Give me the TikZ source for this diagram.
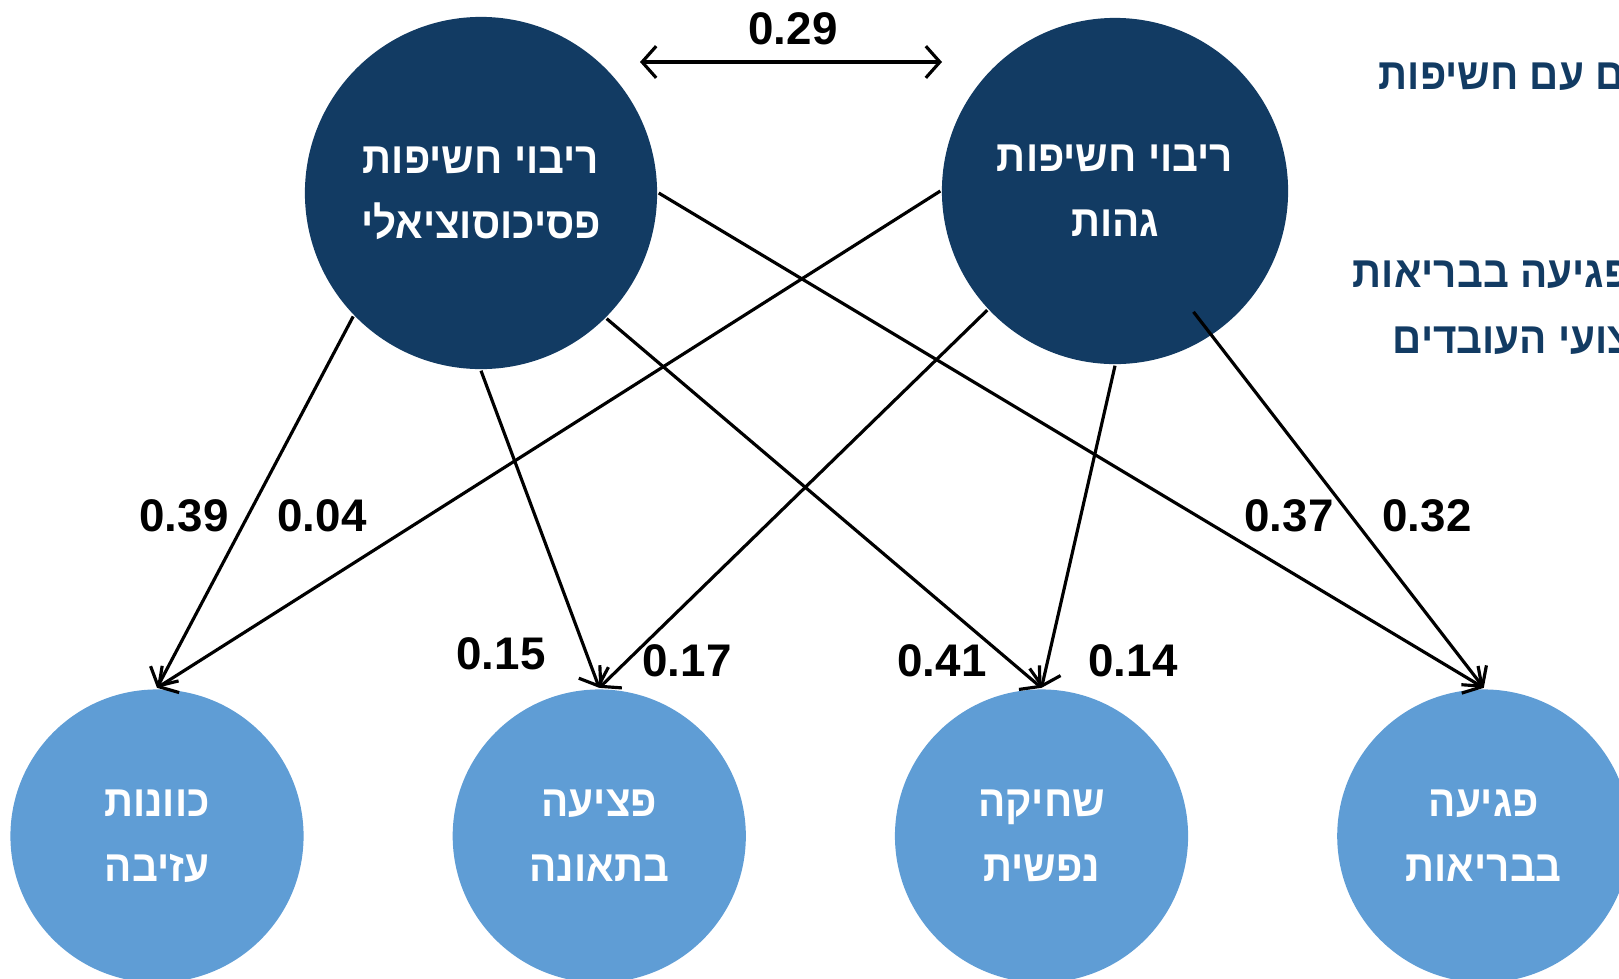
\documentclass[tikz,border=0pt]{standalone}
\usepackage{fontspec}
\usepackage{xcolor}
\usepackage{tikz}
\usetikzlibrary{positioning, arrows.meta}
\setmainfont{Liberation Sans}
\newfontfamily\hebfont[Script=Hebrew, FakeStretch=0.92]{Liberation Sans}
\TeXXeTstate=1
\definecolor{navy}{HTML}{123B63}
\definecolor{skyblue}{HTML}{5F9DD5}

\begin{document}
\begin{tikzpicture}[x=0.01cm, y=-0.01cm, line width=0.9pt,
    >={Straight Barb[length=4pt, width=9pt]}, node distance=4.42cm,
    exposure/.style={circle, fill=navy, text=white, align=center,
      font=\hebfont\bfseries\fontsize{12.5}{18.5}\selectfont},
    outcome/.style={circle, fill=skyblue, text=white, align=center,
      minimum size=2.93cm, font=\hebfont\bfseries\fontsize{12.5}{18.5}\selectfont},
    coef/.style={font=\bfseries\fontsize{13}{15}\selectfont},
    note/.style={text=navy, anchor=east, inner sep=0pt,
      font=\hebfont\bfseries\fontsize{12.5}{15}\selectfont}]
\useasboundingbox (0,0) rectangle (1619,978);
\clip (0,0) rectangle (1619,978);
% top row: exposures
\node[exposure, minimum size=3.52cm] (psy) at (481,193) {\beginR ריבוי חשיפות\endR\\ \beginR פסיכוסוציאלי\endR};
\node[exposure, minimum size=3.46cm] (phy) at (1115,191) {\beginR ריבוי חשיפות\endR\\ \beginR גהות\endR};
% bottom row: outcomes
\node[outcome] (leave) at (157,836) {\beginR כוונות\endR\\ \beginR עזיבה\endR};
\node[outcome, right of=leave] (inj) {\beginR פציעה\endR\\ \beginR בתאונה\endR};
\node[outcome, right of=inj] (burn) {\beginR שחיקה\endR\\ \beginR נפשית\endR};
\node[outcome, right of=burn] (hlth) {\beginR פגיעה\endR\\ \beginR בבריאות\endR};
% side notes (cut off at the edge)
\node[note] (n1) at (1626,77) {\beginR ם עם חשיפות\endR};
\node[note] (n2) at (1632,275) {\beginR פגיעה בבריאות\endR};
\node[note] (n3) at (1634,341) {\beginR צועי העובדים\endR};
% correlation
\coordinate (ca) at (640,62);
\coordinate (cb) at (942,62);
\draw[<->] (ca) -- (cb);
\node[coef] (c29) at (793,29) {0.29};
% paths
\draw[->] (psy.224) -- (leave.north);
\draw[->] (psy.270) -- (inj.north);
\draw[->] (psy.315) -- (burn.north);
\draw[->] (psy.0) -- (hlth.north);
\draw[->] (phy.180) -- (leave.north);
\draw[->] (phy.223) -- (inj.north);
\draw[->] (phy.270) -- (burn.north);
\draw[->] ([shift={(303:1.44cm)}]phy.center) -- (hlth.north);
\node[coef] (c39) at (184,516) {0.39};
\node[coef] (c04) at (322,516) {0.04};
\node[coef] (c15) at (501,654) {0.15};
\node[coef] (c17) at (687,661) {0.17};
\node[coef] (c41) at (942,661) {0.41};
\node[coef] (c14) at (1133,661) {0.14};
\node[coef] (c37) at (1289,516) {0.37};
\node[coef] (c32) at (1427,516) {0.32};
\end{tikzpicture}
\end{document}
